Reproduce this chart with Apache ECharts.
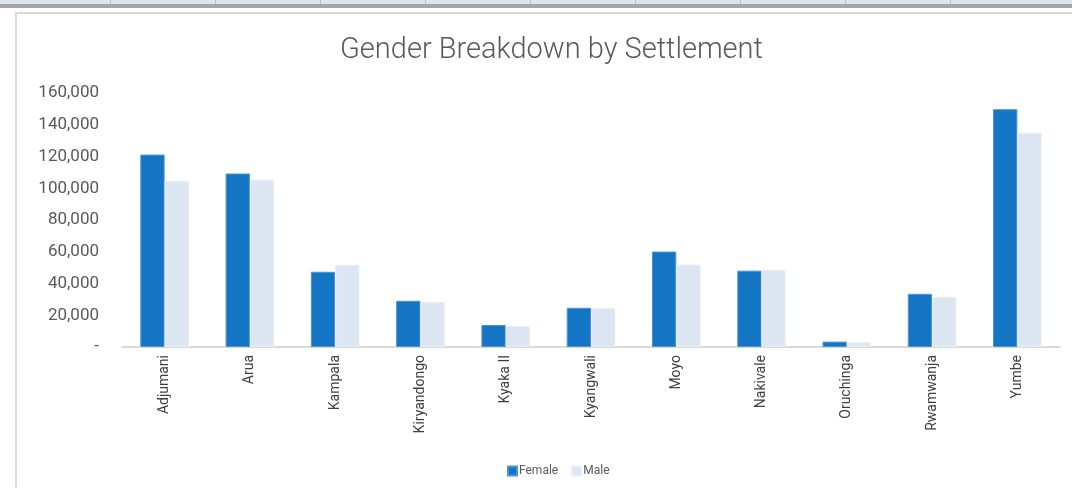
<!DOCTYPE html>
<html>
<head>
<meta charset="utf-8">
<script src="https://cdn.jsdelivr.net/npm/echarts@6/dist/echarts.min.js"></script>
<style>
  html, body { margin: 0; padding: 0; background: #ffffff; }
  #wrap { position: relative; width: 1072px; height: 488px; overflow: hidden; background: #fff; }
  #strip { position: absolute; left: 0; top: 0; width: 1072px; height: 4px; background: #dde4ec; }
  #band { position: absolute; left: 0; top: 4px; width: 1072px; height: 4px; background: #a6a6a6; }
  .sep { position: absolute; top: 0; width: 1px; height: 4px; background: #b8bec6; }
  #frame { position: absolute; left: 15px; top: 12px; width: 1100px; height: 520px; border-left: 2px solid #d9d9d9; border-top: 2px solid #d9d9d9; }
  #chart { position: absolute; left: 0; top: 0; width: 1072px; height: 488px; }
</style>
</head>
<body>
<div id="wrap">
  <div id="strip"></div>
  <div id="band"></div>
  <div id="frame"></div>
  <div id="chart"></div>
</div>
<script>
const categories = ['Adjumani', 'Arua', 'Kampala', 'Kiryandongo', 'Kyaka II', 'Kyangwali', 'Moyo', 'Nakivale', 'Oruchinga', 'Rwamwanja', 'Yumbe'];
const femaleValues = [121200, 109300, 47400, 29100, 13900, 24700, 60100, 48100, 3400, 33500, 149800];
const maleValues = [104800, 105400, 51700, 28300, 13300, 24600, 51900, 48600, 3000, 31600, 135000];
const yTicks = [0, 20000, 40000, 60000, 80000, 100000, 120000, 140000, 160000];
const seriesNames = ['Female', 'Male'];

// header separators (decor)
const wrap = document.getElementById('wrap');
[110, 215, 320, 425, 530, 635, 740, 845, 950].forEach(x => {
  const d = document.createElement('div');
  d.className = 'sep';
  d.style.left = x + 'px';
  wrap.appendChild(d);
});

const chart = echarts.init(document.getElementById('chart'), null, { renderer: 'canvas' });
const fmt = v => v === 0 ? '-' : v.toLocaleString('en-US');
chart.setOption({
  backgroundColor: 'transparent',
  animation: false,
  title: {
    text: 'Gender Breakdown by Settlement',
    left: 335,
    top: 31,
    textStyle: { fontFamily: 'Roboto', fontWeight: 300, fontSize: 29, color: '#595959' }
  },
  legend: {
    data: seriesNames,
    top: 460,
    left: 502,
    itemWidth: 9,
    itemHeight: 9,
    itemGap: 13,
    icon: 'rect',
    textStyle: { fontFamily: 'Roboto', fontSize: 12, color: '#595959', padding: [0, 0, 0, -3] }
  },
  grid: { left: 122, right: 12, top: 93, bottom: 141, containLabel: false },
  xAxis: {
    type: 'category',
    data: categories,
    axisLine: { show: true, lineStyle: { color: '#d9d9d9', width: 2 } },
    axisTick: { show: false },
    axisLabel: {
      rotate: 90,
      interval: 0,
      margin: 8,
      fontFamily: 'Roboto',
      fontSize: 14,
      color: '#404040'
    }
  },
  yAxis: {
    type: 'value',
    min: yTicks[0],
    max: yTicks[yTicks.length - 1],
    interval: 20000,
    splitLine: { show: false },
    axisLine: { show: false },
    axisTick: { show: false },
    axisLabel: {
      margin: 23,
      fontFamily: 'Roboto',
      fontSize: 17,
      color: '#595959',
      formatter: fmt
    }
  },
  series: [
    {
      name: seriesNames[0],
      type: 'bar',
      data: femaleValues,
      barGap: '0%',
      barCategoryGap: '43%',
      itemStyle: { color: '#1475c5', borderColor: '#4a95d6', borderWidth: 1 }
    },
    {
      name: seriesNames[1],
      type: 'bar',
      data: maleValues,
      itemStyle: { color: '#dce6f2', borderColor: '#e8eef7', borderWidth: 1 }
    }
  ]
});
</script>
</body>
</html>
